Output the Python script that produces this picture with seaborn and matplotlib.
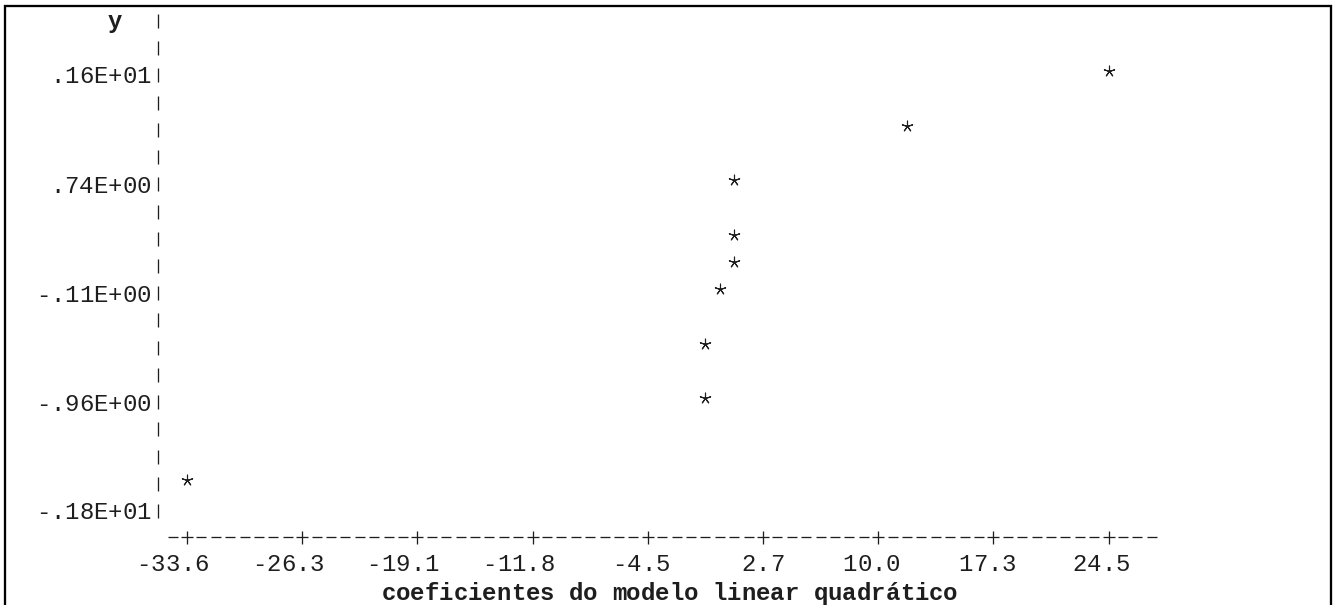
import matplotlib
matplotlib.use("Agg")
import matplotlib.pyplot as plt
import seaborn as sns
import pandas as pd

# Coefficients of the quadratic linear model against y
coef_x = [-33.6, -0.92, -0.92, -0.01, 0.90, 0.90, 0.90, 11.79, 24.5]
coef_y = [-1.59, -0.95, -0.53, -0.10, 0.11, 0.32, 0.75, 1.17, 1.60]

x_tick_values = [-33.6, -26.3, -19.1, -11.8, -4.5, 2.7, 10.0, 17.3, 24.5]
x_tick_labels = ["-33.6", "-26.3", "-19.1", "-11.8", "-4.5", "2.7", "10.0", "17.3", "24.5"]
y_tick_values = [1.6, 0.74, -0.11, -0.96, -1.8]
y_tick_labels = [".16E+01", ".74E+00", "-.11E+00", "-.96E+00", "-.18E+01"]

x_title = "coeficientes do modelo linear quadrático"
y_title = "y"

sns.set_theme(style="white")
plt.rcParams["font.family"] = ["Liberation Mono", "DejaVu Sans Mono"]

W, H, DPI = 1333, 605, 100
FS = 24 * 72 / DPI          # 24 px monospaced text
CW = 14.4                   # character cell width (px)
COL0 = 43.0                 # centre of column 0 (px)
ROW_H = 27.23               # line height (px)
BASE0 = 28.4                # baseline of row 0 (px)
INK = "#1e1e1e"
STROKE = 1.3 * 72 / DPI     # glyph-like stroke width (pt)


def cx(c):
    return COL0 + CW * c


def base(r):
    return BASE0 + ROW_H * r


fig = plt.figure(figsize=(W / DPI, H / DPI), dpi=DPI)
fig.patch.set_facecolor("white")

# character-grid layer in pixel coordinates
lay = fig.add_axes([0, 0, 1, 1])
lay.set_xlim(0, W)
lay.set_ylim(H, 0)
lay.axis("off")


def put(col, row, text, bold=False):
    for i, ch in enumerate(text):
        if ch == " ":
            continue
        lay.text(cx(col + i), base(row), ch, ha="center", va="baseline",
                 fontsize=FS, color=INK,
                 fontweight="bold" if bold else "normal")


def seg(x0, y0, x1, y1):
    lay.plot([x0, x1], [y0, y1], color=INK, lw=STROKE,
             solid_capstyle="butt", clip_on=False)


# frame
lay.plot([5.2, 5.2, 1331.2, 1331.2], [H + 5, 5.6, 5.6, H + 5], color="black",
         lw=2.3 * 72 / DPI, solid_joinstyle="miter", clip_on=False)

# vertical axis: one short bar per text row in column 8
for r in range(0, 19):
    seg(cx(8), base(r) - 14.5, cx(8), base(r) - 0.5)
put(5, 0, y_title, bold=True)

# horizontal axis row: dashes with a cross at every tick column
n_int = len(x_tick_values) - 1
axis_row = "-" + "+-------" * n_int + "+---"
y_axis_row = base(19) - 8.5
for i, ch in enumerate(axis_row):
    c = cx(9 + i)
    if ch == "-":
        seg(c - 5.0, y_axis_row, c + 5.0, y_axis_row)
    else:
        seg(c - 6.0, y_axis_row, c + 6.0, y_axis_row)
        seg(c, y_axis_row - 6.5, c, y_axis_row + 6.5)

# x title
put(24, 21, x_title, bold=True)

# data area: column 10..74 and rows 2..18 of the grid
left_px, right_px = cx(10), cx(74)
top_px, bottom_px = base(2) - 12, base(18) - 12
ax = fig.add_axes([left_px / W, (H - bottom_px) / H,
                   (right_px - left_px) / W, (bottom_px - top_px) / H])
ax.set_facecolor("none")
ax.set_xlim(x_tick_values[0], x_tick_values[-1])
ax.set_ylim(y_tick_values[-1], y_tick_values[0])
ax.axis("off")

df = pd.DataFrame({"coef": coef_x, "y": coef_y})
sns.scatterplot(data=df, x="coef", y="y", ax=ax, marker=(5, 2, 0), s=60,
                color=INK, linewidth=0.8, clip_on=False, legend=False)

# y tick labels, right-aligned in column 7
for v, lab in zip(y_tick_values, y_tick_labels):
    n = len(lab)
    for i, ch in enumerate(lab):
        dx = cx(7 - (n - 1 - i)) - left_px
        ax.annotate(ch, xy=(0, v), xycoords=("axes fraction", "data"),
                    xytext=(dx, -12), textcoords="offset pixels",
                    ha="center", va="baseline", fontsize=FS, color=INK,
                    annotation_clip=False)

# x tick labels, decimal point under each tick
for v, lab in zip(x_tick_values, x_tick_labels):
    d = lab.index(".")
    for i, ch in enumerate(lab):
        ax.annotate(ch, xy=(v, 0), xycoords=("data", "axes fraction"),
                    xytext=((i - d) * CW, -(base(20) - 2 - bottom_px)),
                    textcoords="offset pixels",
                    ha="center", va="baseline", fontsize=FS, color=INK,
                    annotation_clip=False)

fig.savefig("out.png", dpi=DPI, facecolor="white")
